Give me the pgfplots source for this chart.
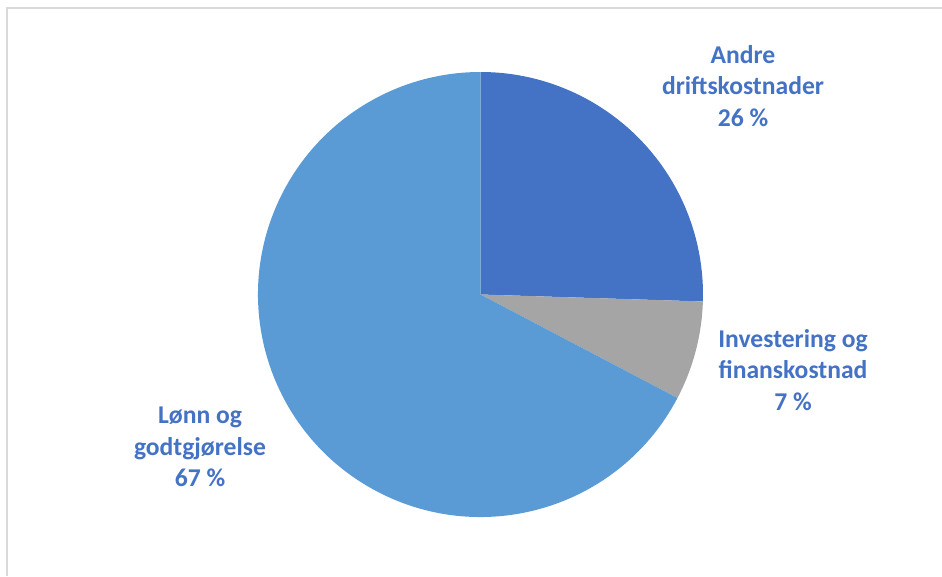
\documentclass[border=0pt]{standalone}
\usepackage{fontspec}
\setmainfont{Carlito}
\usepackage{pgfplots}
\usepackage{pgfplotstable}
\pgfplotsset{compat=1.18}

\definecolor{andre}{HTML}{4472C4}
\definecolor{invest}{HTML}{A5A5A5}
\definecolor{lonn}{HTML}{5B9BD5}
\definecolor{labelblue}{HTML}{4472C4}
\definecolor{frame}{HTML}{D9D9D9}

\tikzset{labelnode/.style={align=center, text=labelblue,
    font=\fontsize{19.2}{23.6}\selectfont\bfseries}}

% share of each slice, in per cent (clockwise from the top)
\pgfplotstableread{
value
25.5
7.2
67.3
}\piedata

\begin{document}
\begin{tikzpicture}
\pgfplotstablegetelem{0}{value}\of\piedata \pgfmathsetmacro\va{\pgfplotsretval}
\pgfplotstablegetelem{1}{value}\of\piedata \pgfmathsetmacro\vb{\pgfplotsretval}
\pgfplotstablegetelem{2}{value}\of\piedata \pgfmathsetmacro\vc{\pgfplotsretval}
\pgfmathsetmacro\aA{90}
\pgfmathsetmacro\aB{\aA-3.6*\va}
\pgfmathsetmacro\aC{\aB-3.6*\vb}
\pgfmathsetmacro\aD{\aC-3.6*\vc}
\begin{axis}[
  x=0.75pt, y=0.75pt,
  xmin=0, xmax=942, ymin=0, ymax=576,
  hide axis, clip=false,
]
\fill[white] (axis cs:0,0) rectangle (axis cs:942,576);
\draw[frame, line width=1.5pt] (axis cs:7,0) -- (axis cs:7,568) -- (axis cs:942,568);

\fill[andre] (axis cs:480.5,281.5) -- ++(\aA:166.875pt)
  arc[start angle=\aA, end angle=\aB, radius=166.875pt] -- cycle;
\fill[invest] (axis cs:480.5,281.5) -- ++(\aB:166.875pt)
  arc[start angle=\aB, end angle=\aC, radius=166.875pt] -- cycle;
\fill[lonn] (axis cs:480.5,281.5) -- ++(\aC:166.875pt)
  arc[start angle=\aC, end angle=\aD, radius=166.875pt] -- cycle;

\node[labelnode] at (axis cs:743,490) {Andre\\driftskostnader\\26 \%};
\node[labelnode] at (axis cs:793,206) {Investering og\\finanskostnad\\7 \%};
\node[labelnode] at (axis cs:200,129) {Lønn og\\godtgjørelse\\67 \%};
\end{axis}
\pgfresetboundingbox
\path (current axis.south west) rectangle (current axis.north east);
\end{tikzpicture}
\end{document}
